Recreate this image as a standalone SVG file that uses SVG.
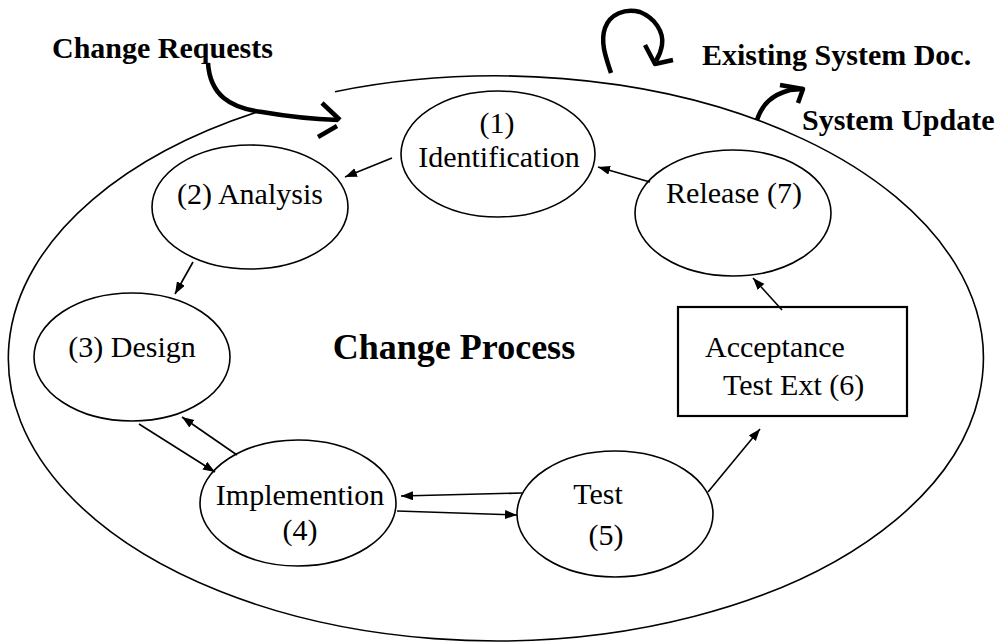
<svg xmlns="http://www.w3.org/2000/svg" width="1000" height="644" viewBox="0 0 1000 644">
<style>
.node{fill:#fff;stroke:#000;stroke-width:1.6}
.box{fill:#fff;stroke:#000;stroke-width:2.2}
.t{font-family:"Liberation Serif","Times New Roman",serif;font-size:30px;fill:#000}
.b{font-family:"Liberation Serif","Times New Roman",serif;font-size:30px;font-weight:bold;fill:#000}
.conn{fill:none;stroke:#000;stroke-width:1.6;marker-end:url(#ah)}
.thick{fill:none;stroke:#000;stroke-width:4.5;stroke-linecap:butt;stroke-linejoin:round}
</style>
<defs>
<marker id="ah" markerUnits="userSpaceOnUse" markerWidth="13" markerHeight="10" refX="12" refY="4.5" orient="auto">
<path d="M0,0 L12,4.5 L0,9 z" fill="#000"/>
</marker>
</defs>
<rect width="1000" height="644" fill="#fff"/>
<g id="boundary">
<path d="M335,91.7 A487.5,282.5 0 1 1 262,110.5" fill="none" stroke="#000" stroke-width="1.6"/>
<text class="b" x="454" y="359" text-anchor="middle" style="font-size:36px">Change Process</text>
</g>
<g id="n1"><ellipse class="node" cx="498" cy="154" rx="97" ry="63"/><text class="t" x="497" y="133" text-anchor="middle">(1)</text><text class="t" x="499" y="167" text-anchor="middle">Identification</text></g>
<g id="n2"><ellipse class="node" cx="250" cy="207" rx="98" ry="62"/><text class="t" x="250" y="204" text-anchor="middle">(2) Analysis</text></g>
<g id="n3"><ellipse class="node" cx="132" cy="357" rx="98" ry="64"/><text class="t" x="132" y="357" text-anchor="middle">(3) Design</text></g>
<g id="n4"><ellipse class="node" cx="298" cy="503" rx="98" ry="63"/><text class="t" x="300" y="505" text-anchor="middle">Implemention</text><text class="t" x="300" y="540" text-anchor="middle">(4)</text></g>
<g id="n5"><ellipse class="node" cx="615" cy="514" rx="98" ry="63"/><text class="t" x="598" y="504" text-anchor="middle">Test</text><text class="t" x="606" y="545" text-anchor="middle">(5)</text></g>
<g id="n6"><rect class="box" x="678" y="307" width="229" height="109"/><text class="t" x="705" y="357">Acceptance</text><text class="t" x="723" y="395">Test Ext (6)</text></g>
<g id="n7"><ellipse class="node" cx="733" cy="213" rx="98" ry="63"/><text class="t" x="734" y="203" text-anchor="middle">Release (7)</text></g>
<g id="external">
<text class="b" x="52" y="58">Change Requests</text>
<text class="b" x="702" y="65">Existing System Doc.</text>
<text class="b" x="802" y="130">System Update</text>
</g>
<g id="connectors">
<line class="conn" x1="392" y1="158" x2="345" y2="177"/>
<line class="conn" x1="650" y1="182" x2="598" y2="167"/>
<line class="conn" x1="193" y1="262" x2="175" y2="294"/>
<line class="conn" x1="139" y1="424" x2="215" y2="472"/>
<line class="conn" x1="237" y1="455" x2="182" y2="417"/>
<line class="conn" x1="522" y1="493" x2="401" y2="496"/>
<line class="conn" x1="397" y1="511" x2="517" y2="515"/>
<line class="conn" x1="708" y1="492" x2="760" y2="429"/>
<line class="conn" x1="782" y1="310" x2="753" y2="278"/>
<path class="thick" d="M208,63 C210,95 230,108 262,112 C285,116 310,119 338,120"/>
<path class="thick" d="M322,103 L340,120"/>
<path class="thick" d="M318,137 L337,126"/>
<path class="thick" d="M611,73 C606,58 600,42 605,28 C610,14 625,8 640,12 C655,18 664,32 662,45 C661,52 659,56 656,61"/>
<path class="thick" d="M645,45 L655,64 L673,60"/>
<path class="thick" d="M757,120 C762,104 772,95 790,90 L803,89"/>
<path class="thick" d="M780,85 L803,89 L798,103"/>
</g>
</svg>
